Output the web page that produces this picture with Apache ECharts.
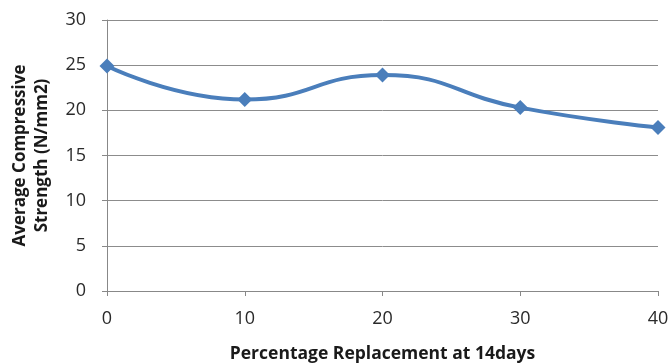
<!DOCTYPE html>
<html>
<head>
<meta charset="utf-8">
<script src="https://cdn.jsdelivr.net/npm/echarts@6/dist/echarts.min.js"></script>
<style>
  html, body { margin: 0; padding: 0; background: #fff; }
  #chart { width: 670px; height: 363px; }
</style>
</head>
<body>
<div id="chart"></div>
<script>
// Replacement percentage and 14-day average compressive strength
const replacement = [0, 10, 20, 30, 40];
const strength = [24.9, 21.2, 23.9, 20.3, 18.1];
const yTicks = [0, 5, 10, 15, 20, 25, 30];

const chart = echarts.init(document.getElementById('chart'));
const font = '"Open Sans", "Liberation Sans", sans-serif';

chart.setOption({
  animation: false,
  grid: { left: 107, right: 12, top: 20, bottom: 72, containLabel: false, outerBoundsMode: 'none' },
  xAxis: {
    type: 'value',
    min: 0, max: 40, interval: 10,
    name: 'Percentage Replacement at 14days',
    nameLocation: 'middle',
    nameGap: 54,
    nameTextStyle: { fontFamily: font, fontWeight: 'bold', fontSize: 17.5, color: '#1a1a1a' },
    axisLine: { show: true, lineStyle: { color: '#888', width: 1 } },
    axisTick: { show: true, length: 5, inside: false, lineStyle: { color: '#888' } },
    axisLabel: { fontFamily: font, fontSize: 18, color: '#2a2a2a', margin: 19 },
    splitLine: { show: false }
  },
  yAxis: {
    type: 'value',
    min: yTicks[0], max: yTicks[yTicks.length - 1], interval: 5,
    name: 'Average Compressive\nStrength (N/mm2)',
    nameLocation: 'middle',
    nameGap: 54,
    nameRotate: 90,
    nameTextStyle: { fontFamily: font, fontWeight: 'bold', fontSize: 17, color: '#1a1a1a', lineHeight: 22 },
    axisLine: { show: true, lineStyle: { color: '#888', width: 1 } },
    axisTick: { show: true, length: 5, lineStyle: { color: '#888' } },
    axisLabel: { fontFamily: font, fontSize: 18, color: '#2a2a2a', margin: 21 },
    splitLine: { show: true, lineStyle: { color: '#8c8c8c', width: 1 } }
  },
  series: [{
    type: 'line',
    data: replacement.map((x, i) => [x, strength[i]]),
    smooth: 0.5,
    symbol: 'diamond',
    symbolSize: 15,
    lineStyle: { color: '#4a7ebb', width: 4 },
    itemStyle: { color: '#4a7ebb' }
  }]
});
</script>
</body>
</html>
